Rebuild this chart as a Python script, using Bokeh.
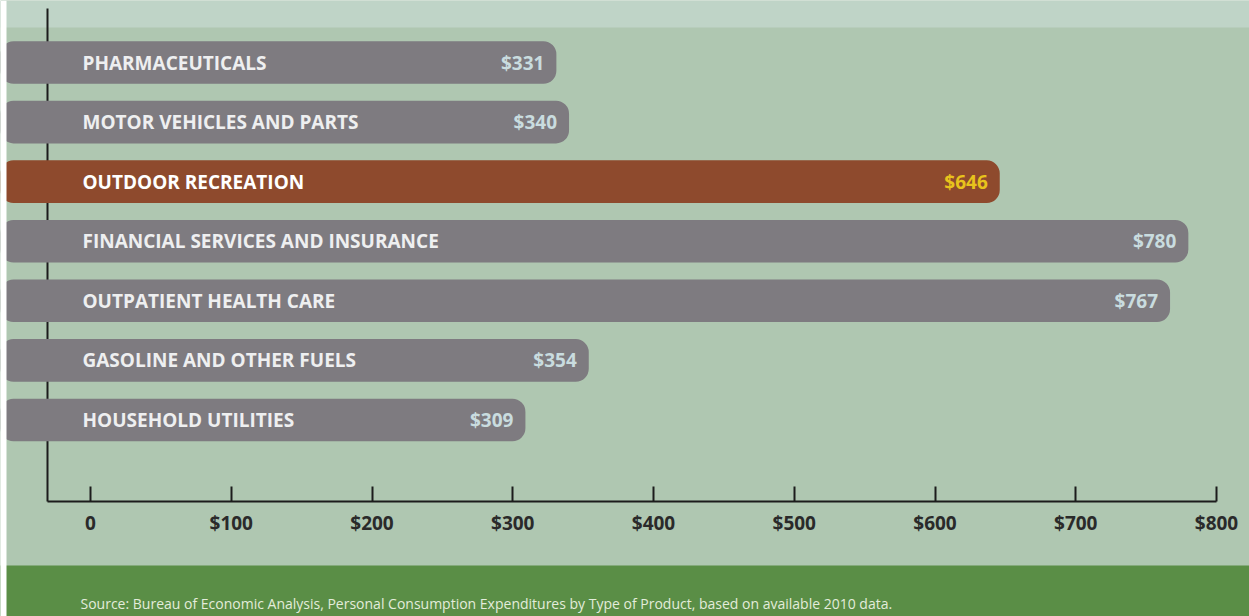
from bokeh.plotting import figure
from bokeh.models import Range1d, LinearAxis, FixedTicker, BoxAnnotation, ColumnDataSource, Label
from bokeh.core.properties import value
from bokeh.embed import file_html
from bokeh.resources import INLINE

# ---------------- data ----------------
categories = [
    "PHARMACEUTICALS",
    "MOTOR VEHICLES AND PARTS",
    "OUTDOOR RECREATION",
    "FINANCIAL SERVICES AND INSURANCE",
    "OUTPATIENT HEALTH CARE",
    "GASOLINE AND OTHER FUELS",
    "HOUSEHOLD UTILITIES",
]
spending = [331, 340, 646, 780, 767, 354, 309]
value_labels = ["$331", "$340", "$646", "$780", "$767", "$354", "$309"]
highlight = "OUTDOOR RECREATION"
tick_values = [0, 100, 200, 300, 400, 500, 600, 700, 800]
tick_labels = ["0", "$100", "$200", "$300", "$400", "$500", "$600", "$700", "$800"]
source_note = ("Source:  Bureau of Economic Analysis, Personal Consumption Expenditures "
               "by Type of Product, based on available 2010 data.")

# ---------------- layout ----------------
W, H = 1249, 616
PX_PER_UNIT = 1.4075
X0_PX = 90
ROW_PX = 59.58
ROW0_PX = 62

def xd(px):
    return (px - X0_PX) / PX_PER_UNIT

def yd(px):
    return (px - ROW0_PX) / ROW_PX

x_start, x_end = xd(0), xd(W)
y_bottom, y_top = yd(H), yd(0)

MAIN_BG = "#afc7b1"
TOP_BG = "#bfd4c7"
FOOT_BG = "#5a8e46"
BAR = "#7e7b80"
HI_BAR = "#8e4a2d"

p = figure(width=W, height=H, x_range=Range1d(x_start, x_end),
           y_range=Range1d(y_bottom, y_top), min_border=0,
           toolbar_location=None, output_backend="svg",
           x_axis_location=None, y_axis_location=None,
           outline_line_color=None, background_fill_color=MAIN_BG,
           border_fill_color="white")
p.grid.visible = False

# background bands
p.add_layout(BoxAnnotation(bottom=yd(27), fill_color=TOP_BG, fill_alpha=1,
                           line_color=None, level="image"))
p.add_layout(BoxAnnotation(top=yd(565), fill_color=FOOT_BG, fill_alpha=1,
                           line_color=None, level="image"))

# axes
xaxis = LinearAxis(fixed_location=yd(501), bounds=(xd(46.5), 800),
                   ticker=FixedTicker(ticks=tick_values),
                   major_label_overrides={v: l for v, l in zip(tick_values, tick_labels)},
                   major_tick_in=15, major_tick_out=0,
                   minor_tick_in=0, minor_tick_out=0,
                   axis_line_width=2, axis_line_color="#1c1c1c",
                   major_tick_line_width=2, major_tick_line_color="#1c1c1c",
                   major_label_standoff=8,
                   major_label_text_font="Open Sans",
                   major_label_text_font_style="bold",
                   major_label_text_font_size="19px",
                   major_label_text_color="#2a2a2a",
                   level="underlay")
p.add_layout(xaxis, "below")

yaxis = LinearAxis(fixed_location=xd(46.5), bounds=(yd(8), yd(501)),
                   ticker=FixedTicker(ticks=[]),
                   major_tick_line_color=None, minor_tick_line_color=None,
                   major_label_text_font_size="0px",
                   axis_line_width=2, axis_line_color="#1c1c1c",
                   level="underlay")
p.add_layout(yaxis, "left")

# bars
rows = list(range(len(categories)))
src = ColumnDataSource(dict(
    y=rows,
    cat=categories,
    val=spending,
    vlab=value_labels,
    color=[HI_BAR if c == highlight else BAR for c in categories],
    lcolor=["#ffffff" if c == highlight else "#eeeff0" for c in categories],
    vcolor=["#e8c31c" if c == highlight else "#c9dcdf" for c in categories],
))

p.hbar(y="y", left=xd(-30), right="val", height=0.715, source=src,
       fill_color="color", line_color=None, border_radius=13)

p.text(x=0, y="y", text="cat", source=src, x_offset=-8,
       text_align="left", text_baseline="middle",
       text_font=value("Open Sans"), text_font_style="bold",
       text_font_size="19px", text_color="lcolor")

p.text(x="val", y="y", text="vlab", source=src, x_offset=-12,
       text_align="right", text_baseline="middle",
       text_font=value("Open Sans"), text_font_style="bold",
       text_font_size="19px", text_color="vcolor")

# left white strip
p.add_layout(BoxAnnotation(right=xd(6), fill_color="white", fill_alpha=1,
                           line_color=None, level="annotation"))

p.add_layout(Label(x=xd(80), y=yd(603), text=source_note,
                   text_baseline="middle", text_align="left",
                   text_font="Open Sans", text_font_size="14px",
                   text_color="#e3ecdb", level="overlay"))

open("out.html", "w").write(file_html(p, INLINE))
